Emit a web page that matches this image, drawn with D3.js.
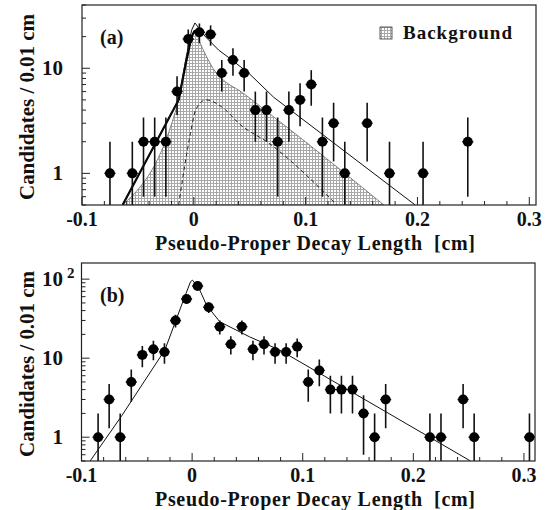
<!DOCTYPE html>
<html>
<head>
<meta charset="utf-8">
<script src="https://cdn.jsdelivr.net/npm/d3@7/dist/d3.min.js"></script>
<style>
body { margin: 0; background: #fff; }
text { font-family: "Liberation Serif", "DejaVu Serif", serif; font-weight: bold; fill: #111; }
</style>
</head>
<body>
<div id="chart"></div>
<script>
// panel (a): bin centres, counts, errors
var xA = [-0.075, -0.055, -0.045, -0.035, -0.025, -0.015, -0.005, 0.005, 0.015, 0.025, 0.035, 0.045, 0.055,
          0.065, 0.075, 0.085, 0.095, 0.105, 0.115, 0.125, 0.135, 0.155, 0.175, 0.205, 0.245];
var nA = [1, 1, 2, 2, 2, 6, 19, 22, 21, 9, 12, 9, 4, 4, 2, 4, 5, 7, 2, 3, 1, 3, 1, 1, 2];
var errA = [1, 1, 1.4, 1.4, 1.4, 2.4, 4.4, 4.7, 4.6, 3, 3.5, 3, 2, 2, 1.4, 2, 2.2, 2.6, 1.4, 1.7, 1, 1.7, 1, 1, 1.4];

// panel (a): fit curves
var totalA = [[-0.0637, 0.5], [-0.0136, 5], [-0.0073, 12], [-0.002, 23], [0.001, 27], [0.0105, 19.9],
              [0.0222, 14.9], [0.034, 12], [0.05, 8.8], [0.0714, 5.3], [0.198, 0.5]];
var backgroundA = [[-0.0637, 0.5], [-0.0136, 5], [-0.0073, 11], [-0.002, 20], [0.001, 23], [0.005, 18],
                   [0.0106, 13.4], [0.0195, 9.2], [0.0285, 7.4], [0.0401, 6.2], [0.067, 3.75], [0.17, 0.5]];
var signalA = [[-0.0136, 0.5], [-0.003, 2.4], [0.0016, 4.0], [0.0106, 5.0], [0.0285, 4.0], [0.0401, 3.0],
               [0.067, 1.94], [0.128, 0.5]];

// panel (b)
var xB = [-0.085, -0.075, -0.065, -0.055, -0.045, -0.035, -0.025, -0.015, -0.005, 0.005, 0.015, 0.025, 0.035,
          0.045, 0.055, 0.065, 0.075, 0.085, 0.095, 0.105, 0.115, 0.125, 0.135, 0.145, 0.155, 0.165, 0.175,
          0.215, 0.225, 0.245, 0.255, 0.305];
var nB = [1, 3, 1, 5, 11, 13, 12, 30, 56, 82, 44, 25, 15, 25, 13, 15, 12, 12, 14, 5, 7, 4, 4, 4, 2, 1, 3, 1, 1, 3, 1, 1];
var errB = [1, 1.7, 1, 2.2, 3.3, 3.6, 3.5, 5.5, 7.5, 9, 6.6, 5, 3.9, 5, 3.6, 3.9, 3.5, 3.5, 3.7, 2.2, 2.6, 2, 2, 2,
            1.4, 1, 1.7, 1, 1, 1.7, 1, 1];
var totalB = [[-0.0922, 0.5], [-0.0636, 1.87], [-0.0246, 12.7], [-0.0095, 47], [-0.0014, 93], [0.0004, 97],
              [0.0069, 73], [0.013, 47], [0.025, 28.9], [0.052, 18.6], [0.079, 12.7], [0.2517, 0.5]];

// axis labels
var xTickLabels = ["-0.1", "0", "0.1", "0.2", "0.3"];
var xTickValues = [-0.1, 0, 0.1, 0.2, 0.3];
var xTitle = "Pseudo-Proper Decay Length\u00a0 [cm]";
var yTitle = "Candidates / 0.01 cm";

var W = 554, H = 510;
var svg = d3.select("#chart").append("svg")
    .attr("width", W)
    .attr("height", H);

var defs = svg.append("defs");
var pat = defs.append("pattern")
    .attr("id", "dots")
    .attr("width", 3).attr("height", 3)
    .attr("patternUnits", "userSpaceOnUse");
pat.append("rect").attr("width", 3).attr("height", 3).attr("fill", "#fff");
pat.append("rect").attr("width", 3).attr("height", 1).attr("fill", "#a8a8a8");
pat.append("rect").attr("width", 1).attr("height", 3).attr("fill", "#a8a8a8");

function panel(cfg) {
    var x = d3.scaleLinear().domain(cfg.xd).range([cfg.left, cfg.right]);
    var y = d3.scaleLog().domain(cfg.yd).range([cfg.bottom, cfg.top]);
    var g = svg.append("g");

    defs.append("clipPath").attr("id", cfg.id)
        .append("rect")
        .attr("x", cfg.left).attr("y", cfg.top)
        .attr("width", cfg.right - cfg.left).attr("height", cfg.bottom - cfg.top);

    var plot = g.append("g").attr("clip-path", "url(#" + cfg.id + ")");
    var line = d3.line()
        .x(function(d) { return x(d[0]); })
        .y(function(d) { return y(d[1]); });

    // shaded background
    if (cfg.bg) {
        var area = d3.area()
            .x(function(d) { return x(d[0]); })
            .y0(cfg.bottom + 2)
            .y1(function(d) { return y(d[1]); })
            .curve(d3.curveMonotoneX);
        plot.append("path").datum(cfg.bg)
            .attr("d", area)
            .attr("fill", "url(#dots)");
        plot.append("path").datum(cfg.bg)
            .attr("d", line.curve(d3.curveMonotoneX))
            .attr("fill", "none").attr("stroke", "#555").attr("stroke-width", 0.7);
        plot.append("path").datum(cfg.bg.filter(function(d) { return d[0] <= 0.001; }))
            .attr("d", line.curve(d3.curveLinear))
            .attr("fill", "none").attr("stroke", "#000").attr("stroke-width", 2.2);
    }
    if (cfg.signal) {
        plot.append("path").datum(cfg.signal)
            .attr("d", line.curve(d3.curveMonotoneX))
            .attr("fill", "none").attr("stroke", "#222")
            .attr("stroke-width", 1).attr("stroke-dasharray", "4,3");
    }
    plot.append("path").datum(cfg.total)
        .attr("d", line.curve(d3.curveLinear))
        .attr("fill", "none").attr("stroke", "#111").attr("stroke-width", 1);

    // data points with errors
    var pts = cfg.xs.map(function(v, i) { return {x: v, n: cfg.ns[i], e: cfg.es[i]}; });
    var pg = plot.append("g");
    pg.selectAll("line.ey").data(pts).enter().append("line")
        .attr("x1", function(d) { return x(d.x); })
        .attr("x2", function(d) { return x(d.x); })
        .attr("y1", function(d) { return y(d.n + d.e); })
        .attr("y2", function(d) { return d.n - d.e > 0.3 ? y(d.n - d.e) : cfg.bottom + 2; })
        .attr("stroke", "#111").attr("stroke-width", 1.6);
    pg.selectAll("line.ex").data(pts).enter().append("line")
        .attr("x1", function(d) { return x(d.x - 0.005); })
        .attr("x2", function(d) { return x(d.x + 0.005); })
        .attr("y1", function(d) { return y(d.n); })
        .attr("y2", function(d) { return y(d.n); })
        .attr("stroke", "#111").attr("stroke-width", 1.4);
    pg.selectAll("circle").data(pts).enter().append("circle")
        .attr("cx", function(d) { return x(d.x); })
        .attr("cy", function(d) { return y(d.n); })
        .attr("r", 5)
        .attr("fill", "#000");

    // frame
    g.append("rect")
        .attr("x", cfg.left).attr("y", cfg.top)
        .attr("width", cfg.right - cfg.left).attr("height", cfg.bottom - cfg.top)
        .attr("fill", "none").attr("stroke", "#222").attr("stroke-width", 1.2);

    // x ticks
    var minor = d3.range(-0.1, 0.3001, 0.02);
    g.selectAll("line.xt").data(minor).enter().append("line")
        .attr("x1", function(d) { return x(d); })
        .attr("x2", function(d) { return x(d); })
        .attr("y1", cfg.bottom)
        .attr("y2", function(d) {
            var major = Math.abs(Math.round(d * 10) - d * 10) < 1e-6;
            return cfg.bottom - (major ? 8 : 4);
        })
        .attr("stroke", "#222").attr("stroke-width", 1);
    g.selectAll("text.xl").data(xTickValues).enter().append("text")
        .attr("x", function(d) { return x(d); })
        .attr("y", cfg.bottom + 21)
        .attr("text-anchor", "middle")
        .attr("font-size", 20)
        .text(function(d, i) { return xTickLabels[i]; });

    // y ticks (log)
    var yt = [];
    [0.1, 1, 10, 100].forEach(function(dec) {
        for (var k = 1; k < 10; k++) {
            var v = dec * k;
            if (v >= cfg.yd[0] && v <= cfg.yd[1]) yt.push({v: v, major: k === 1});
        }
    });
    g.selectAll("line.yt").data(yt).enter().append("line")
        .attr("x1", cfg.left)
        .attr("x2", function(d) { return cfg.left + (d.major ? 8 : 4); })
        .attr("y1", function(d) { return y(d.v); })
        .attr("y2", function(d) { return y(d.v); })
        .attr("stroke", "#222").attr("stroke-width", 1);
    cfg.yLabels.forEach(function(v) {
        if (v === 100) {
            g.append("text").attr("x", 63).attr("y", y(v) + 7)
                .attr("text-anchor", "end").attr("font-size", 21).text("10");
            g.append("text").attr("x", 67).attr("y", y(v) - 1)
                .attr("font-size", 15).text("2");
        } else {
            g.append("text").attr("x", 63).attr("y", y(v) + 7)
                .attr("text-anchor", "end").attr("font-size", 21).text(String(v));
        }
    });

    // titles
    g.append("text")
        .attr("x", 155).attr("y", cfg.bottom + 45)
        .attr("font-size", 20)
        .attr("textLength", 320)
        .text(xTitle);
    g.append("text")
        .attr("transform", "translate(34," + ((cfg.top + cfg.bottom) / 2 + 2) + ") rotate(-90)")
        .attr("text-anchor", "middle")
        .attr("font-size", 21)
        .attr("textLength", 186)
        .text(yTitle);
    g.append("text")
        .attr("x", 100).attr("y", cfg.top + 39)
        .attr("font-size", 20)
        .text(cfg.tag);
    return g;
}

var ga = panel({
    id: "clipA", tag: "(a)",
    left: 82, right: 536, top: 5, bottom: 205,
    xd: [-0.1, 0.306], yd: [0.5, 40],
    xs: xA, ns: nA, es: errA,
    total: totalA, bg: backgroundA, signal: signalA,
    yLabels: [1, 10]
});

// legend
ga.append("rect")
    .attr("x", 380).attr("y", 27).attr("width", 12).attr("height", 12)
    .attr("fill", "url(#dots)").attr("stroke", "#333").attr("stroke-width", 0.8);
ga.append("text")
    .attr("x", 403).attr("y", 39)
    .attr("font-size", 19)
    .attr("textLength", 109)
    .text("Background");

panel({
    id: "clipB", tag: "(b)",
    left: 81.5, right: 535, top: 263, bottom: 461,
    xd: [-0.1, 0.31], yd: [0.5, 160],
    xs: xB, ns: nB, es: errB,
    total: totalB,
    yLabels: [1, 10, 100]
});
</script>
</body>
</html>
